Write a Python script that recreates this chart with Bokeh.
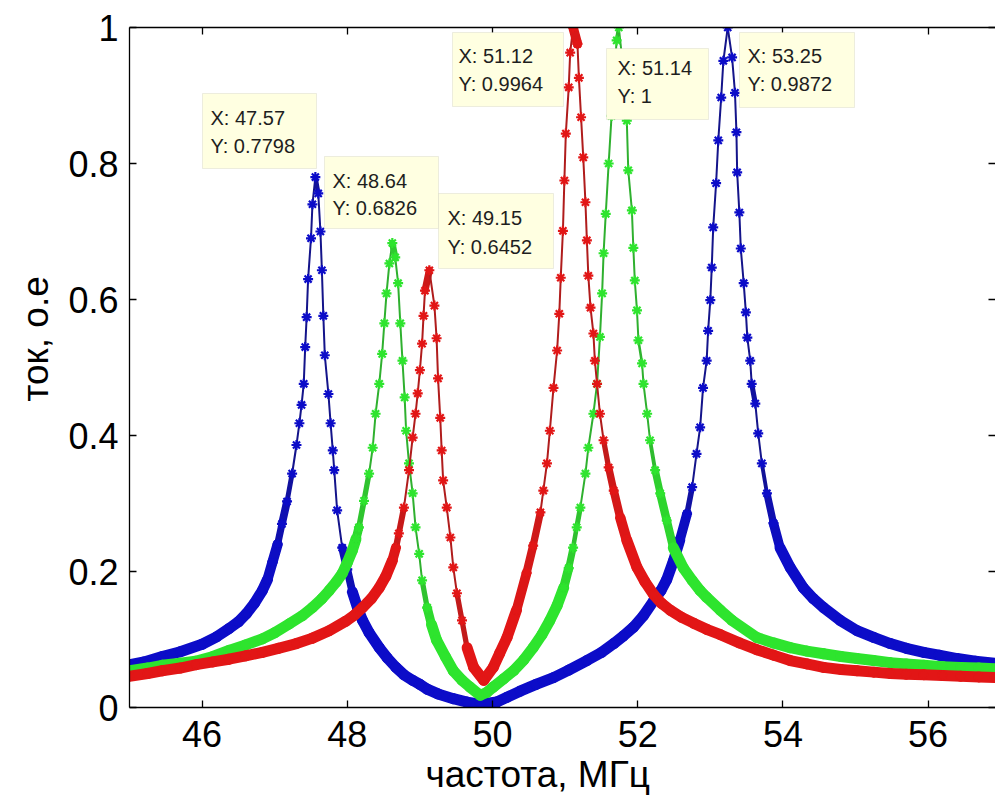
import numpy as np
from bokeh.plotting import figure
from bokeh.models import (Range1d, FixedTicker, LinearAxis, BoxAnnotation, Label, Title,
                          ColumnDataSource, CustomJSTickFormatter)
from bokeh.embed import file_html
from bokeh.resources import INLINE

# ---------------- data ----------------
blue_x = [45.00, 45.20, 45.45, 45.70, 46.00, 46.20, 46.37, 46.50, 46.61, 46.72, 46.83, 46.90, 46.97,
          47.04, 47.10, 47.17, 47.24, 47.30, 47.34, 47.37, 47.40, 47.42, 47.44, 47.46, 47.50, 47.52,
          47.56, 47.60, 47.63, 47.65, 47.67, 47.69, 47.74, 47.77, 47.80, 47.82, 47.86, 47.93, 48.00,
          48.07, 48.14, 48.21, 48.30, 48.44, 48.55, 48.67, 48.78, 48.90, 49.00, 49.10, 49.25, 49.46,
          49.65, 49.83, 50.06, 50.20, 50.38, 50.60, 50.84, 51.05, 51.30, 51.50, 51.67, 51.80, 51.94,
          52.08, 52.22, 52.32, 52.40, 52.49, 52.58, 52.68, 52.75, 52.81, 52.86, 52.90, 52.95, 52.97,
          53.00, 53.02, 53.04, 53.08, 53.11, 53.15, 53.18, 53.24, 53.30, 53.34, 53.36, 53.37, 53.40,
          53.42, 53.46, 53.49, 53.51, 53.55, 53.57, 53.62, 53.66, 53.71, 53.78, 53.87, 53.96, 54.10,
          54.28, 54.42, 54.56, 54.79, 55.02, 55.25, 55.48, 55.70, 55.94, 56.15, 56.40, 56.65, 56.92]
blue_y = [0.063, 0.067, 0.075, 0.082, 0.093, 0.104, 0.116, 0.126, 0.138, 0.153, 0.172, 0.188, 0.214,
          0.240, 0.270, 0.303, 0.344, 0.386, 0.418, 0.445, 0.476, 0.530, 0.574, 0.630, 0.690, 0.740,
          0.780, 0.756, 0.700, 0.643, 0.576, 0.518, 0.461, 0.418, 0.378, 0.349, 0.290, 0.235, 0.203,
          0.170, 0.147, 0.128, 0.110, 0.088, 0.073, 0.059, 0.048, 0.040, 0.034, 0.027, 0.020, 0.013,
          0.008, 0.005, 0.008, 0.015, 0.024, 0.034, 0.044, 0.055, 0.069, 0.081, 0.094, 0.105, 0.118,
          0.135, 0.157, 0.172, 0.188, 0.215, 0.246, 0.285, 0.324, 0.373, 0.412, 0.470, 0.510, 0.554,
          0.599, 0.647, 0.706, 0.771, 0.834, 0.897, 0.951, 1.000, 0.956, 0.904, 0.846, 0.787, 0.728,
          0.675, 0.624, 0.581, 0.544, 0.510, 0.476, 0.447, 0.403, 0.359, 0.315, 0.271, 0.235, 0.206,
          0.176, 0.160, 0.147, 0.128, 0.113, 0.103, 0.094, 0.087, 0.081, 0.077, 0.072, 0.068, 0.065]

green_x = [45.00, 45.25, 45.45, 45.70, 45.91, 46.15, 46.37, 46.60, 46.83, 47.00, 47.20, 47.38, 47.52,
           47.65, 47.75, 47.85, 47.93, 48.00, 48.07, 48.12, 48.16, 48.23, 48.30, 48.35, 48.39, 48.44,
           48.48, 48.51, 48.54, 48.58, 48.62, 48.66, 48.70, 48.73, 48.76, 48.79, 48.81, 48.85, 48.90,
           48.94, 48.99, 49.03, 49.10, 49.16, 49.23, 49.35, 49.46, 49.58, 49.69, 49.83, 49.92, 50.01,
           50.15, 50.29, 50.43, 50.56, 50.68, 50.79, 50.89, 50.98, 51.05, 51.11, 51.16, 51.21, 51.28,
           51.32, 51.39, 51.44, 51.48, 51.51, 51.53, 51.56, 51.60, 51.64, 51.68, 51.71, 51.74, 51.79,
           51.82, 51.85, 51.87, 51.92, 51.94, 51.96, 51.99, 52.01, 52.06, 52.08, 52.13, 52.17, 52.24,
           52.31, 52.40, 52.49, 52.63, 52.75, 52.86, 52.95, 53.14, 53.30, 53.64, 53.87, 54.10, 54.33,
           54.56, 54.80, 55.02, 55.25, 55.48, 55.70, 55.94, 56.20, 56.45, 56.70, 56.92]
green_y = [0.054, 0.058, 0.062, 0.065, 0.068, 0.075, 0.084, 0.092, 0.101, 0.110, 0.123, 0.135, 0.147,
           0.160, 0.172, 0.185, 0.197, 0.213, 0.231, 0.248, 0.265, 0.304, 0.344, 0.382, 0.432, 0.476,
           0.520, 0.565, 0.609, 0.653, 0.683, 0.662, 0.624, 0.565, 0.510, 0.456, 0.407, 0.359, 0.315,
           0.265, 0.226, 0.187, 0.147, 0.122, 0.099, 0.075, 0.054, 0.040, 0.030, 0.018, 0.022, 0.030,
           0.042, 0.054, 0.070, 0.088, 0.107, 0.128, 0.150, 0.176, 0.205, 0.235, 0.265, 0.294, 0.344,
           0.382, 0.432, 0.476, 0.545, 0.609, 0.668, 0.726, 0.800, 0.870, 0.935, 0.981, 1.000, 0.950,
           0.905, 0.863, 0.790, 0.731, 0.676, 0.628, 0.584, 0.540, 0.506, 0.476, 0.432, 0.393, 0.349,
           0.315, 0.275, 0.235, 0.205, 0.187, 0.172, 0.162, 0.143, 0.128, 0.103, 0.095, 0.088, 0.083,
           0.079, 0.075, 0.072, 0.069, 0.066, 0.064, 0.062, 0.060, 0.059, 0.058, 0.057]

red_x = [45.00, 45.25, 45.45, 45.70, 45.92, 46.15, 46.37, 46.60, 46.83, 47.05, 47.30, 47.52, 47.75,
         47.98, 48.10, 48.21, 48.33, 48.44, 48.53, 48.62, 48.67, 48.71, 48.78, 48.85, 48.90, 48.94,
         48.97, 49.00, 49.03, 49.05, 49.07, 49.13, 49.20, 49.23, 49.25, 49.28, 49.30, 49.32, 49.37,
         49.42, 49.46, 49.51, 49.58, 49.65, 49.74, 49.88, 50.01, 50.10, 50.20, 50.33, 50.47, 50.56,
         50.66, 50.70, 50.75, 50.79, 50.84, 50.89, 50.92, 50.94, 50.97, 50.99, 51.01, 51.05, 51.07,
         51.11, 51.17, 51.19, 51.22, 51.25, 51.28, 51.30, 51.32, 51.35, 51.39, 51.41, 51.44, 51.48,
         51.53, 51.60, 51.67, 51.76, 51.85, 51.99, 52.10, 52.22, 52.33, 52.45, 52.60, 52.77, 52.95,
         53.14, 53.40, 53.64, 53.87, 54.10, 54.33, 54.56, 54.80, 55.02, 55.25, 55.48, 55.70, 55.94,
         56.20, 56.45, 56.70, 56.92]
red_y = [0.046, 0.050, 0.054, 0.058, 0.063, 0.067, 0.071, 0.076, 0.081, 0.087, 0.094, 0.102, 0.113,
         0.127, 0.136, 0.147, 0.160, 0.176, 0.193, 0.216, 0.235, 0.256, 0.294, 0.349, 0.397, 0.432,
         0.462, 0.496, 0.535, 0.576, 0.613, 0.643, 0.591, 0.543, 0.484, 0.426, 0.378, 0.334, 0.294,
         0.250, 0.206, 0.168, 0.128, 0.088, 0.059, 0.040, 0.059, 0.080, 0.103, 0.143, 0.198, 0.238,
         0.287, 0.319, 0.359, 0.407, 0.470, 0.525, 0.579, 0.632, 0.701, 0.775, 0.844, 0.912, 0.963,
         1.000, 0.976, 0.926, 0.868, 0.809, 0.743, 0.687, 0.635, 0.588, 0.550, 0.510, 0.476, 0.432,
         0.393, 0.353, 0.319, 0.279, 0.246, 0.206, 0.185, 0.166, 0.153, 0.143, 0.133, 0.124, 0.115,
         0.107, 0.095, 0.085, 0.077, 0.069, 0.064, 0.059, 0.056, 0.054, 0.052, 0.050, 0.049, 0.048,
         0.047, 0.046, 0.045, 0.044]

x_ticks = [46, 48, 50, 52, 54, 56]
y_ticks = [0, 0.2, 0.4, 0.6, 0.8, 1]
y_tick_labels = ["0", "0.2", "0.4", "0.6", "0.8", "1"]

tip_texts = [("X: 47.57", "Y: 0.7798"),
             ("X: 48.64", "Y: 0.6826"),
             ("X: 49.15", "Y: 0.6452"),
             ("X: 51.12", "Y: 0.9964"),
             ("X: 51.14", "Y: 1"),
             ("X: 53.25", "Y: 0.9872")]

x_label = "частота, МГц"
y_label = "ток, о.е"

# ---------------- layout / style ----------------
W, H = 995, 806
LEFT, TOP, BOTTOM = 129, 27, 99
X_START = 45.0
PX_PER_X = 72.6
PX_PER_Y = 680.0
X_END = X_START + (W - LEFT) / PX_PER_X

FONT = "Liberation Sans"
COLORS = {"blue": ("#0c0cc8", "#14148a"),
          "green": ("#2ee42e", "#2fb02f"),
          "red": ("#e21616", "#b01c1c")}

# datatip boxes in reference pixels: left, right, top, bottom ; text x, line1 y, line2 y
tip_boxes_px = [(202, 316, 93, 168), (324, 438, 156, 228), (438, 553, 193, 268),
                (452, 563, 32, 106), (606, 708, 48, 119), (739, 854, 32, 107)]
tip_text_px = [(210, 117, 145), (332, 180, 207), (447, 217, 246),
               (458, 55, 83), (617, 67, 95), (747, 55, 83)]


def dx(px):
    return X_START + (px - LEFT) / PX_PER_X


def dy(py):
    return (H - BOTTOM - py) / PX_PER_Y


p = figure(width=W, height=H, output_backend="svg", toolbar_location=None,
           x_range=Range1d(X_START, X_END), y_range=Range1d(0, 1),
           min_border_left=LEFT, min_border_top=TOP, min_border_bottom=BOTTOM,
           min_border_right=0, x_axis_location=None, y_axis_location=None)
p.background_fill_color = "white"
p.border_fill_color = "white"
p.outline_line_color = None
p.xgrid.visible = False
p.ygrid.visible = False

ylab_fmt = CustomJSTickFormatter(args=dict(yvals=y_ticks, ytxt=y_tick_labels),
                                 code="const i = yvals.indexOf(tick); return i >= 0 ? ytxt[i] : String(tick);")


def style_axis(ax, show_labels):
    ax.axis_line_color = "black"
    ax.axis_line_width = 1.3
    ax.major_tick_line_color = "black"
    ax.major_tick_line_width = 1.3
    ax.major_tick_in = 7
    ax.major_tick_out = 0
    ax.minor_tick_line_color = None
    if show_labels:
        ax.major_label_text_font = FONT
        ax.major_label_text_font_size = "36px"
        ax.major_label_text_color = "black"
    else:
        ax.major_label_text_font_size = "0px"
        ax.major_label_text_color = None
        ax.major_label_standoff = 0


xb = LinearAxis(ticker=FixedTicker(ticks=x_ticks))
style_axis(xb, True)
xb.major_label_standoff = 13
p.add_layout(xb, "below")

xt = LinearAxis(ticker=FixedTicker(ticks=x_ticks))
style_axis(xt, False)
p.add_layout(xt, "above")

yl = LinearAxis(ticker=FixedTicker(ticks=y_ticks), formatter=ylab_fmt)
style_axis(yl, True)
yl.major_label_standoff = 11
p.add_layout(yl, "left")

yr = LinearAxis(ticker=FixedTicker(ticks=y_ticks))
style_axis(yr, False)
yr.axis_line_color = None
p.add_layout(yr, "right")

p.add_layout(Title(text=x_label, align="left", offset=296, standoff=4,
                   text_font=FONT, text_font_size="37px", text_font_style="normal",
                   text_color="black"), "below")
p.add_layout(Title(text=y_label, align="left", offset=306, standoff=19,
                   text_font=FONT, text_font_size="37px", text_font_style="normal",
                   text_color="black"), "left")


def blend(c1, c2, t):
    a = np.array([int(c1[i:i + 2], 16) for i in (1, 3, 5)], dtype=float)
    b = np.array([int(c2[i:i + 2], 16) for i in (1, 3, 5)], dtype=float)
    out = []
    for tt in t:
        c = np.round(a * (1 - tt) + b * tt).astype(int)
        out.append("#%02x%02x%02x" % tuple(c))
    return out


def curve(xs, ys, key):
    base, dark = COLORS[key]
    xs = np.asarray(xs, dtype=float)
    ys = np.asarray(ys, dtype=float)
    dxp = np.diff(xs) * PX_PER_X
    dyp = np.diff(ys) * PX_PER_Y
    slope = np.abs(dyp) / np.maximum(dxp, 1e-6)
    step = 1.8 * np.sqrt(1 + slope ** 2)
    t = np.clip((step - 6.0) / 6.0, 0, 1)
    w = 11 - 9 * t
    src = ColumnDataSource(dict(x0=xs[:-1], y0=ys[:-1], x1=xs[1:], y1=ys[1:], w=w,
                                c=blend(base, dark, t)))
    p.segment(x0="x0", y0="y0", x1="x1", y1="y1", line_width="w", line_color="c",
              line_cap="round", line_join="round", source=src)
    p.scatter(xs, ys, marker="asterisk", size=10, line_width=2.2, line_color=base)


curve(blue_x, blue_y, "blue")
curve(green_x, green_y, "green")
curve(red_x, red_y, "red")

for (l, r, t, b), (tx, ty1, ty2), (s1, s2) in zip(tip_boxes_px, tip_text_px, tip_texts):
    p.add_layout(BoxAnnotation(left=dx(l), right=dx(r), top=dy(t), bottom=dy(b),
                               fill_color="#ffffe1", fill_alpha=1.0,
                               line_color="#c4c4b4", line_width=1, level="annotation"))
    for s, ty in ((s1, ty1), (s2, ty2)):
        p.add_layout(Label(x=dx(tx), y=dy(ty), text=s, text_font=FONT,
                           text_font_size="20px", text_color="#1e1e1e",
                           text_baseline="middle", text_align="left"))

open("out.html", "w").write(file_html(p, INLINE))
